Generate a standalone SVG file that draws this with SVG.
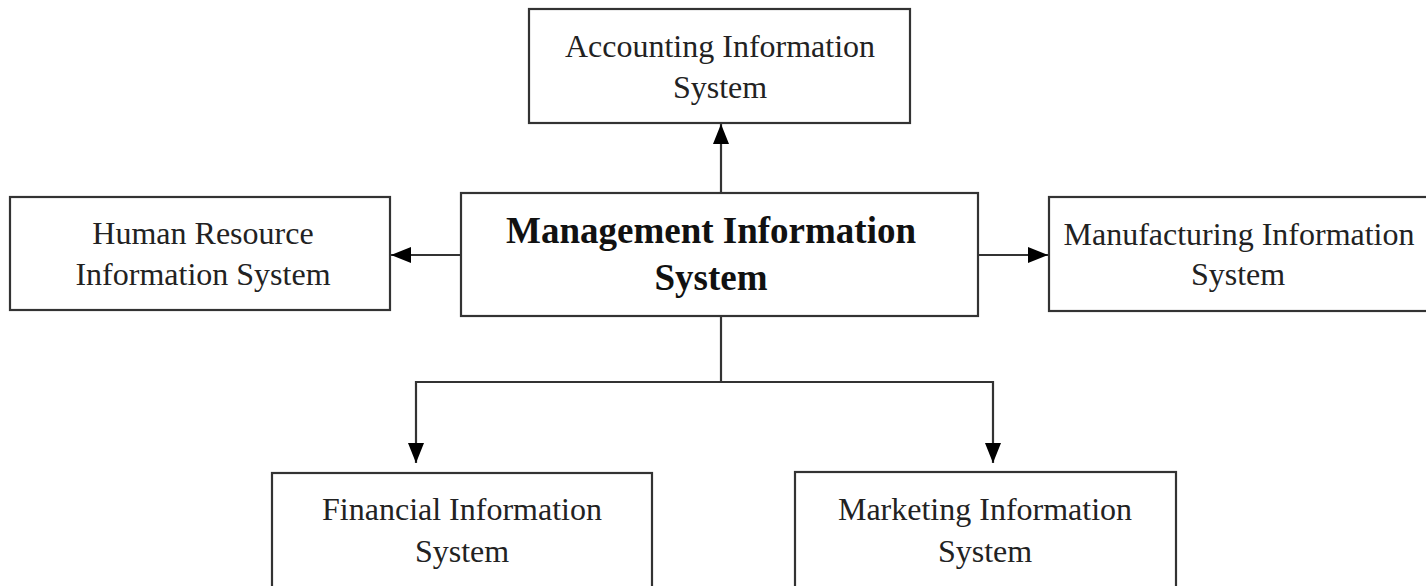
<svg xmlns="http://www.w3.org/2000/svg" width="1426" height="586" viewBox="0 0 1426 586">
<style>
.box{fill:#fff;stroke:#333;stroke-width:2.2}
.t{font-family:"Liberation Serif","Times New Roman",serif;font-size:32px;fill:#222;text-anchor:middle}
.b{font-family:"Liberation Serif","Times New Roman",serif;font-size:37px;font-weight:bold;fill:#111;text-anchor:middle}
.c{fill:none;stroke:#333;stroke-width:2.2}
</style>
<defs>
<marker id="ah" markerWidth="20" markerHeight="16" refX="20" refY="8" orient="auto" markerUnits="userSpaceOnUse">
<path d="M0,0 L20,8 L0,16 Z" fill="#000"/>
</marker>
</defs>
<rect width="1426" height="586" fill="#fff"/>
<g id="connectors">
<line class="c" x1="721" y1="193" x2="721" y2="124" marker-end="url(#ah)"/>
<line class="c" x1="461" y1="255" x2="391" y2="255" marker-end="url(#ah)"/>
<line class="c" x1="978" y1="255" x2="1048" y2="255" marker-end="url(#ah)"/>
<polyline class="c" points="721,316 721,382"/>
<polyline class="c" points="721,382 416,382 416,463" marker-end="url(#ah)"/>
<polyline class="c" points="721,382 993,382 993,463" marker-end="url(#ah)"/>
</g>
<g id="mis">
<rect class="box" x="461" y="193" width="517" height="123"/>
<text class="b" x="711" y="243">Management Information</text>
<text class="b" x="711" y="290">System</text>
</g>
<g id="accounting">
<rect class="box" x="529" y="9" width="381" height="114"/>
<text class="t" x="720" y="57">Accounting Information</text>
<text class="t" x="720" y="98">System</text>
</g>
<g id="hr">
<rect class="box" x="10" y="197" width="380" height="113"/>
<text class="t" x="203" y="244">Human Resource</text>
<text class="t" x="203" y="285">Information System</text>
</g>
<g id="manufacturing">
<rect class="box" x="1049" y="197" width="400" height="114"/>
<text class="t" x="1239" y="245">Manufacturing Information</text>
<text class="t" x="1238" y="285">System</text>
</g>
<g id="financial">
<rect class="box" x="272" y="473" width="380" height="116"/>
<text class="t" x="462" y="520">Financial Information</text>
<text class="t" x="462" y="562">System</text>
</g>
<g id="marketing">
<rect class="box" x="795" y="472" width="381" height="117"/>
<text class="t" x="985" y="520">Marketing Information</text>
<text class="t" x="985" y="562">System</text>
</g>
</svg>
